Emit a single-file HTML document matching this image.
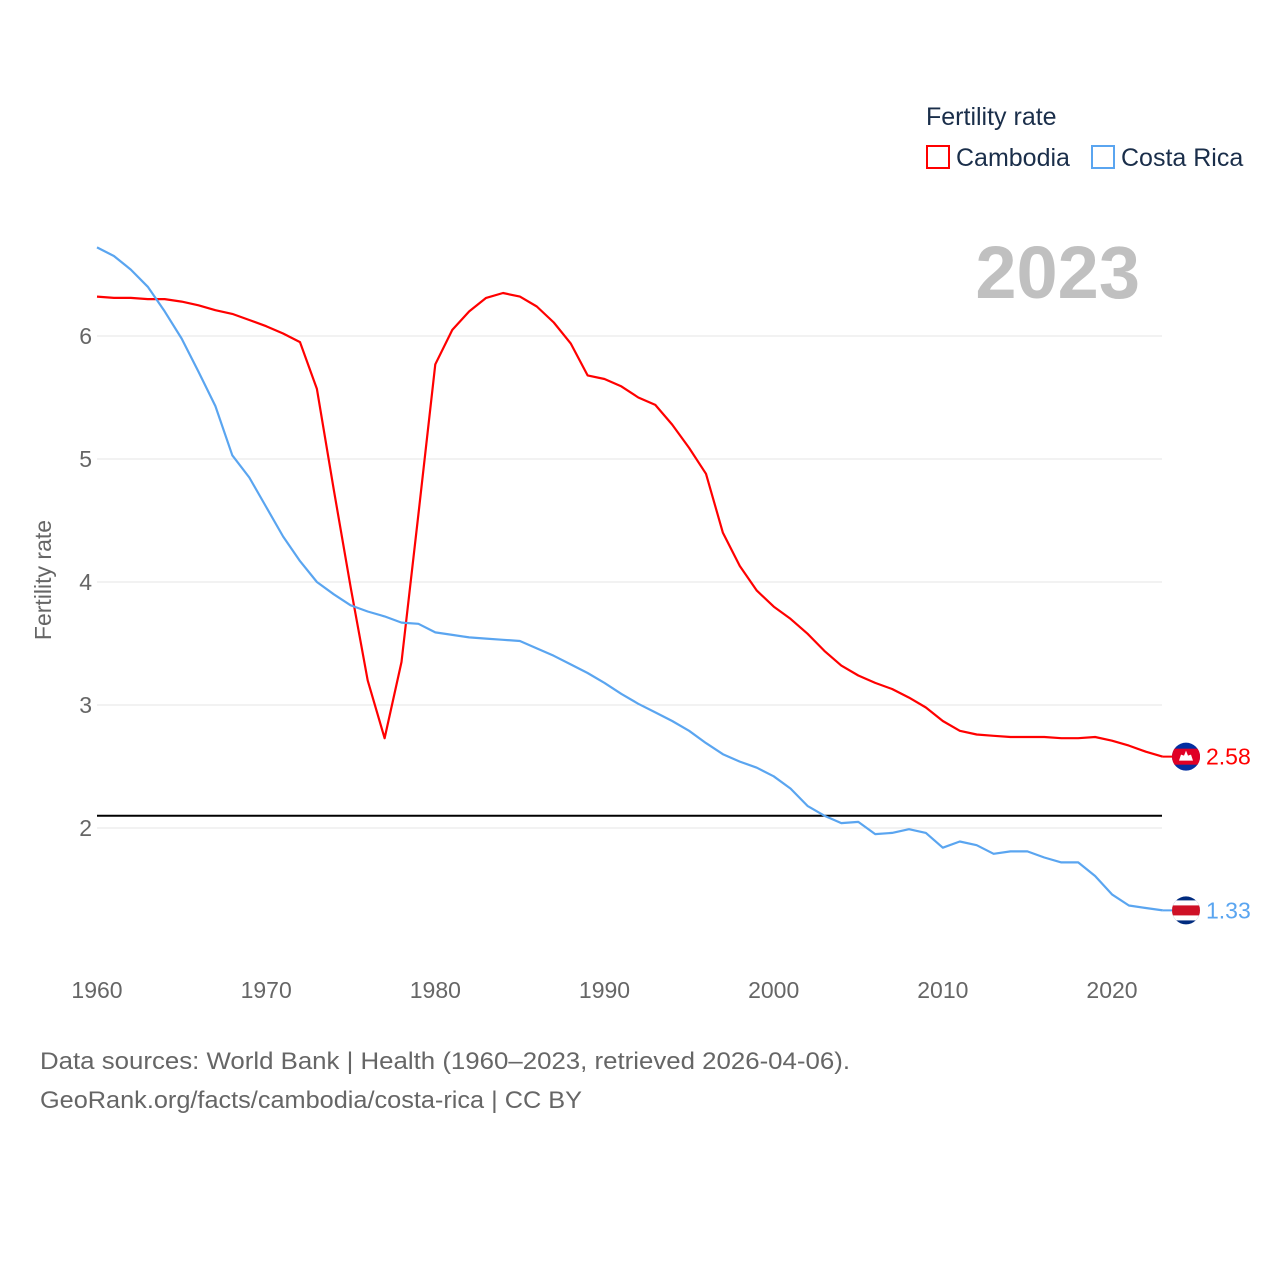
<!DOCTYPE html>
<html><head><meta charset="utf-8"><style>
body{margin:0;background:#fff;font-family:"Liberation Sans",sans-serif}
svg{display:block}
</style></head><body>
<svg id="chart" width="1280" height="1280" viewBox="0 0 1280 1280" xmlns="http://www.w3.org/2000/svg" font-family="Liberation Sans, sans-serif">
<g>
<text x="926" y="125" font-size="25" fill="#1a2e4a">Fertility rate</text>
<rect x="927" y="146" width="22" height="22" fill="none" stroke="#ff0000" stroke-width="2"/>
<text x="956" y="166" font-size="25" fill="#1a2e4a">Cambodia</text>
<rect x="1092" y="146" width="22" height="22" fill="none" stroke="#5aa5f0" stroke-width="2"/>
<text x="1121" y="166" font-size="25" fill="#1a2e4a">Costa Rica</text>
</g>
<text x="1140" y="298" text-anchor="end" font-size="74" font-weight="bold" fill="#c0c0c0">2023</text>
<text transform="translate(51,580) rotate(-90)" text-anchor="middle" font-size="23" fill="#666">Fertility rate</text>
<g id="grid"></g><g id="yticks"></g><g id="xticks"></g>
<line id="ref" x1="97" x2="1162" stroke="#000" stroke-width="2"/>
<g id="lines"></g><g id="ends"></g>
<text x="40" y="1069" font-size="24" fill="#666" textLength="810" lengthAdjust="spacingAndGlyphs">Data sources: World Bank | Health (1960–2023, retrieved 2026-04-06).</text>
<text x="40" y="1108" font-size="24" fill="#666" textLength="542" lengthAdjust="spacingAndGlyphs">GeoRank.org/facts/cambodia/costa-rica | CC BY</text>
</svg>
<script>
const startYear=1960;
const cambodia=[6.32,6.31,6.31,6.30,6.30,6.28,6.25,6.21,6.18,6.13,6.08,6.02,5.95,5.57,4.75,3.95,3.2,2.73,3.35,4.55,5.77,6.05,6.20,6.31,6.35,6.32,6.24,6.11,5.94,5.68,5.65,5.59,5.50,5.44,5.28,5.09,4.88,4.40,4.13,3.93,3.80,3.70,3.58,3.44,3.32,3.24,3.18,3.13,3.06,2.98,2.87,2.79,2.76,2.75,2.74,2.74,2.74,2.73,2.73,2.74,2.71,2.67,2.62,2.58];
const costaRica=[6.72,6.65,6.54,6.40,6.20,5.98,5.71,5.43,5.03,4.85,4.61,4.37,4.17,4.00,3.90,3.81,3.76,3.72,3.67,3.66,3.59,3.57,3.55,3.54,3.53,3.52,3.46,3.40,3.33,3.26,3.18,3.09,3.01,2.94,2.87,2.79,2.69,2.60,2.54,2.49,2.42,2.32,2.18,2.10,2.04,2.05,1.95,1.96,1.99,1.96,1.84,1.89,1.86,1.79,1.81,1.81,1.76,1.72,1.72,1.61,1.46,1.37,1.35,1.33];
const yTicks=[2,3,4,5,6];
const xTicks=[1960,1970,1980,1990,2000,2010,2020];
const refValue=2.1;
const NS="http://www.w3.org/2000/svg";
const X=yr=>97+(yr-1960)*(1015/60);
const Y=v=>336-(v-6)*123;
function mk(t,a,p){const e=document.createElementNS(NS,t);for(const k in a)e.setAttribute(k,a[k]);document.getElementById(p).appendChild(e);return e;}
yTicks.forEach(v=>{
 const l=mk('line',{x1:97,x2:1162,y1:Y(v),y2:Y(v),stroke:'#e6e6e6','stroke-width':1},'grid');
 
 
 const t=mk('text',{x:92,y:Y(v)+8,'text-anchor':'end','font-size':23,fill:'#666'},'yticks');
 t.textContent=v;
 
 
});
xTicks.forEach(v=>{
 const t=mk('text',{x:X(v),y:998,'text-anchor':'middle','font-size':23,fill:'#666'},'xticks');
 t.textContent=v;
 
 
});
const r=document.getElementById('ref');r.setAttribute('y1',Y(refValue));r.setAttribute('y2',Y(refValue));
function line(data,col,name){
 const d=data.map((v,i)=>(i?'L':'M')+X(startYear+i).toFixed(1)+','+Y(v).toFixed(1)).join('');
 const p=mk('path',{d:d,fill:'none',stroke:col,'stroke-width':2.2,'stroke-linejoin':'round'},'lines');
 
 
}
line(cambodia,'#ff0000','cambodia-line');
line(costaRica,'#5aa5f0','costa-rica-line');
function endMark(data,col,name,flag){
 const last=data[data.length-1],x=X(startYear+data.length-1),y=Y(last);
 mk('line',{x1:x,x2:1186,y1:y,y2:y,stroke:col,'stroke-width':2},'ends');
 const g=mk('g',{},'ends');
 
 
 const cx=1186;
 const cp='clip-'+name;
 const c=document.createElementNS(NS,'clipPath');c.setAttribute('id',cp);
 const cc=document.createElementNS(NS,'circle');cc.setAttribute('cx',cx);cc.setAttribute('cy',y);cc.setAttribute('r',14);c.appendChild(cc);g.appendChild(c);
 const inner=document.createElementNS(NS,'g');inner.setAttribute('clip-path','url(#'+cp+')');g.appendChild(inner);
 flag.forEach(s=>{const rr=document.createElementNS(NS,'rect');rr.setAttribute('x',cx-15);rr.setAttribute('y',y-15+s[0]);rr.setAttribute('width',30);rr.setAttribute('height',s[1]);rr.setAttribute('fill',s[2]);inner.appendChild(rr);});
 if(name==='cambodia'){const t=document.createElementNS(NS,'path');t.setAttribute('d',`M${cx-7},${y+4}L${cx-5},${y-2}L${cx-2},${y-1}L${cx},${y-6}L${cx+2},${y-1}L${cx+5},${y-2}L${cx+7},${y+4}Z`);t.setAttribute('fill','#fff');inner.appendChild(t);}
 const t=mk('text',{x:1206,y:y+8,'font-size':23,fill:col},'ends');
 t.textContent=last.toFixed(2);
 
 
}
endMark(cambodia,'#ff0000','cambodia',[[0,30,'#032ea1'],[7,16,'#e00025']]);
endMark(costaRica,'#5aa5f0','costa-rica',[[0,30,'#002b7f'],[5,20,'#fff'],[10,10,'#ce1126']]);
</script>
</body></html>
